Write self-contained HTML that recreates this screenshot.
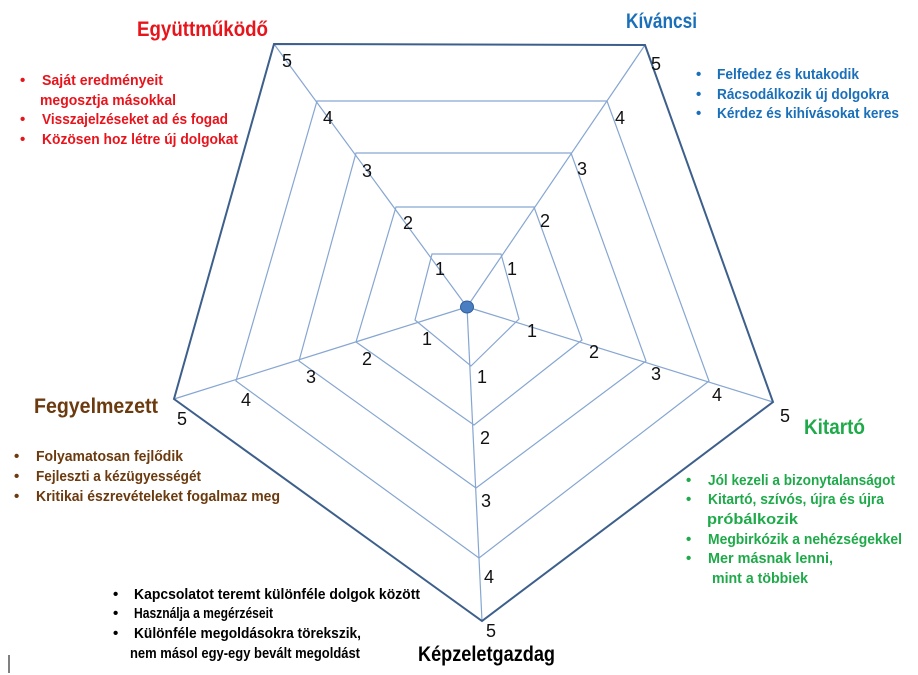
<!DOCTYPE html>
<html><head><meta charset="utf-8"><style>
html,body{margin:0;padding:0;background:#fff;}
svg{display:block;}
text{font-family:"Liberation Sans",sans-serif;}
.b{font-weight:bold;font-size:15px;}
.t{font-weight:bold;font-size:21px;}
.n{font-size:18px;fill:#111;}
</style></head><body>
<svg width="918" height="675" viewBox="0 0 918 675" xmlns="http://www.w3.org/2000/svg">
<g fill="none" stroke="#86a6d2" stroke-width="1.2">
<polygon points="432,254 501,254 519,319 471,366 415,320"/>
<polygon points="396,207 534,207 582,340 474,425 356,342"/>
<polygon points="356,153 571,153 646,361 476,488 299,361"/>
<polygon points="317,101 607,101 709,381 479,558 236,381"/>
<line x1="467" y1="307" x2="274" y2="44"/>
<line x1="467" y1="307" x2="645" y2="45"/>
<line x1="467" y1="307" x2="773" y2="402"/>
<line x1="467" y1="307" x2="482" y2="621"/>
<line x1="467" y1="307" x2="174" y2="399"/>
</g>
<polygon points="274,44 645,45 773,402 482,621 174,399" fill="none" stroke="#3d5f8c" stroke-width="2"/>
<ellipse cx="467" cy="307" rx="6.5" ry="6" fill="#4a7ec2" stroke="#2f5f9a" stroke-width="1"/>
<line x1="9" y1="655" x2="9" y2="673" stroke="#000" stroke-width="1"/>
<g class="n" text-anchor="middle">
<text x="287" y="67">5</text><text x="328" y="124">4</text><text x="367" y="177">3</text><text x="408" y="229">2</text><text x="440" y="275">1</text>
<text x="656" y="70">5</text><text x="620" y="124">4</text><text x="582" y="175">3</text><text x="545" y="227">2</text><text x="512" y="275">1</text>
<text x="532" y="337">1</text><text x="594" y="358">2</text><text x="656" y="380">3</text><text x="717" y="401">4</text><text x="785" y="422">5</text>
<text x="482" y="383">1</text><text x="485" y="444">2</text><text x="486" y="507">3</text><text x="489" y="583">4</text><text x="491" y="637">5</text>
<text x="427" y="345">1</text><text x="367" y="365">2</text><text x="311" y="383">3</text><text x="246" y="406">4</text><text x="182" y="425">5</text>
</g>
<g fill="#e8141c">
<text class="t" x="137" y="36" textLength="131" lengthAdjust="spacingAndGlyphs">Együttműködő</text>
<text class="b" x="20" y="85">•</text><text class="b" x="42" y="85" textLength="121" lengthAdjust="spacingAndGlyphs">Saját eredményeit</text>
<text class="b" x="40" y="105" textLength="136" lengthAdjust="spacingAndGlyphs">megosztja másokkal</text>
<text class="b" x="20" y="124">•</text><text class="b" x="42" y="124" textLength="186" lengthAdjust="spacingAndGlyphs">Visszajelzéseket ad és fogad</text>
<text class="b" x="20" y="144">•</text><text class="b" x="42" y="144" textLength="196" lengthAdjust="spacingAndGlyphs">Közösen hoz létre új dolgokat</text>
</g>
<g fill="#1a6fba">
<text class="t" x="626" y="28" textLength="71" lengthAdjust="spacingAndGlyphs">Kíváncsi</text>
<text class="b" x="696" y="79">•</text><text class="b" x="717" y="79" textLength="142" lengthAdjust="spacingAndGlyphs">Felfedez és kutakodik</text>
<text class="b" x="696" y="99">•</text><text class="b" x="717" y="99" textLength="172" lengthAdjust="spacingAndGlyphs">Rácsodálkozik új dolgokra</text>
<text class="b" x="696" y="118">•</text><text class="b" x="717" y="118" textLength="182" lengthAdjust="spacingAndGlyphs">Kérdez és kihívásokat keres</text>
</g>
<g fill="#1faa4a">
<text class="t" x="804" y="434" textLength="61" lengthAdjust="spacingAndGlyphs">Kitartó</text>
<text class="b" x="686" y="485">•</text><text class="b" x="708" y="485" textLength="187" lengthAdjust="spacingAndGlyphs">Jól kezeli a bizonytalanságot</text>
<text class="b" x="686" y="504">•</text><text class="b" x="708" y="504" textLength="176" lengthAdjust="spacingAndGlyphs">Kitartó, szívós, újra és újra</text>
<text class="b" x="707" y="524" textLength="91" lengthAdjust="spacingAndGlyphs">próbálkozik</text>
<text class="b" x="686" y="544">•</text><text class="b" x="708" y="544" textLength="194" lengthAdjust="spacingAndGlyphs">Megbirkózik a nehézségekkel</text>
<text class="b" x="686" y="563">•</text><text class="b" x="708" y="563" textLength="125" lengthAdjust="spacingAndGlyphs">Mer másnak lenni,</text>
<text class="b" x="712" y="583" textLength="96" lengthAdjust="spacingAndGlyphs">mint a többiek</text>
</g>
<g fill="#6b3a0e">
<text class="t" x="34" y="413" textLength="124" lengthAdjust="spacingAndGlyphs">Fegyelmezett</text>
<text class="b" x="14" y="461">•</text><text class="b" x="36" y="461" textLength="147" lengthAdjust="spacingAndGlyphs">Folyamatosan fejlődik</text>
<text class="b" x="14" y="481">•</text><text class="b" x="36" y="481" textLength="165" lengthAdjust="spacingAndGlyphs">Fejleszti a kézügyességét</text>
<text class="b" x="14" y="501">•</text><text class="b" x="36" y="501" textLength="244" lengthAdjust="spacingAndGlyphs">Kritikai észrevételeket fogalmaz meg</text>
</g>
<g fill="#000">
<text class="t" x="418" y="661" textLength="137" lengthAdjust="spacingAndGlyphs">Képzeletgazdag</text>
<text class="b" x="113" y="599">•</text><text class="b" x="134" y="599" textLength="286" lengthAdjust="spacingAndGlyphs">Kapcsolatot teremt különféle dolgok között</text>
<text class="b" x="113" y="618">•</text><text class="b" x="134" y="618" textLength="139" lengthAdjust="spacingAndGlyphs">Használja a megérzéseit</text>
<text class="b" x="113" y="638">•</text><text class="b" x="134" y="638" textLength="227" lengthAdjust="spacingAndGlyphs">Különféle megoldásokra törekszik,</text>
<text class="b" x="130" y="658" textLength="230" lengthAdjust="spacingAndGlyphs">nem másol egy-egy bevált megoldást</text>
</g>
</svg>
</body></html>
